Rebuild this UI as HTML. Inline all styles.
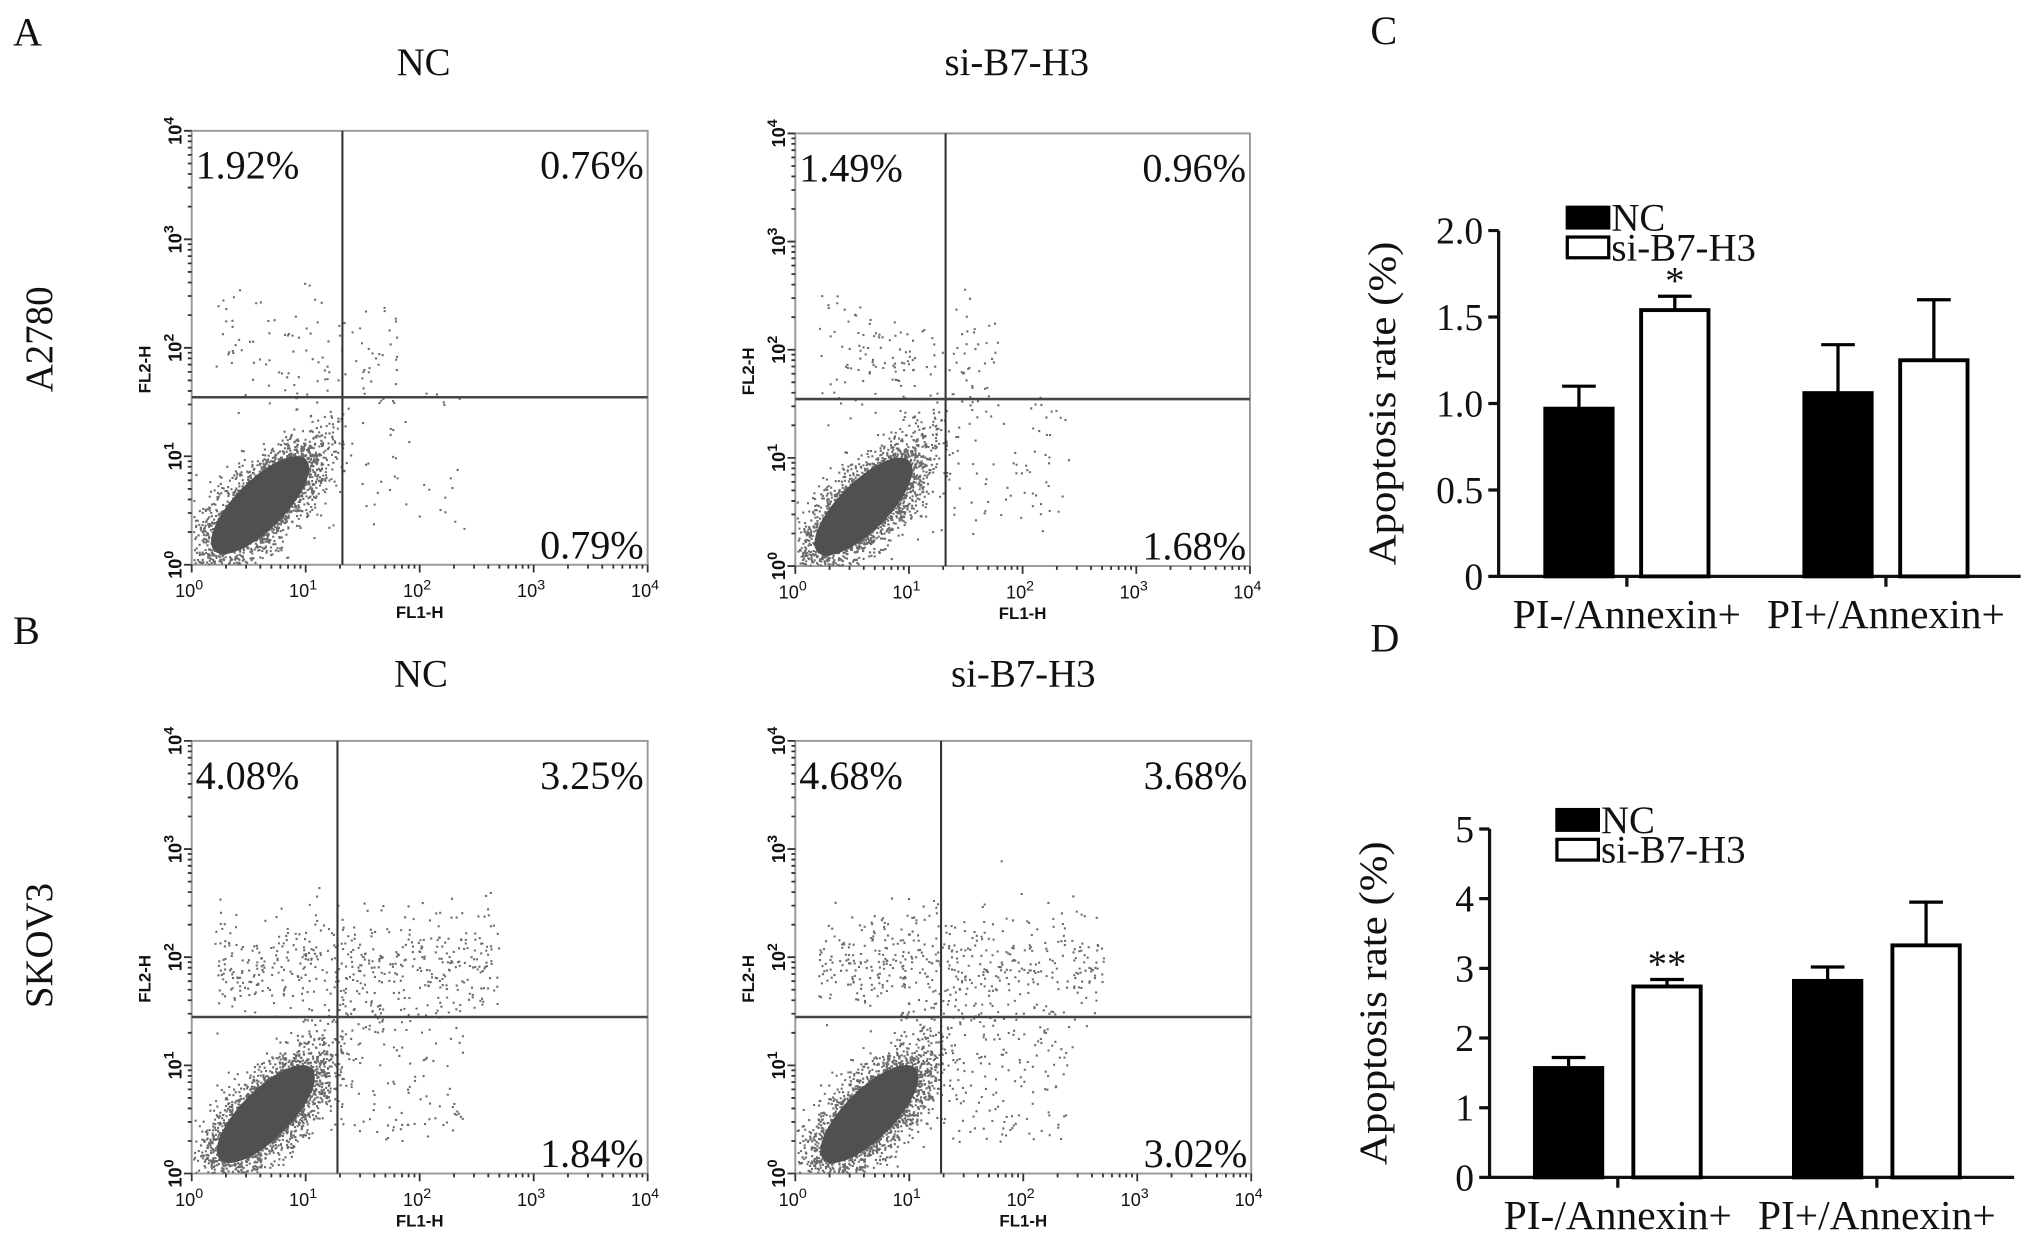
<!DOCTYPE html>
<html><head><meta charset="utf-8"><style>
html,body{margin:0;padding:0;background:#fff;}
svg{display:block;}
text{font-family:"Liberation Serif",serif;fill:#111;}
.sans{font-family:"Liberation Sans",sans-serif;}
</style></head><body>
<svg id="fig" width="2031" height="1237" viewBox="0 0 1568 955" xmlns="http://www.w3.org/2000/svg">
<g id="flow"></g>
<g id="bars"></g>
</svg>
<script>
// ---- flow panel data ----
const panelNames = ["a2780-nc","a2780-si","skov3-nc","skov3-si"];
const quadUL = ["1.92%","1.49%","4.08%","4.68%"];
const quadUR = ["0.76%","0.96%","3.25%","3.68%"];
const quadLR = ["0.79%","1.68%","1.84%","3.02%"];
const gateX = [21, 21, 19, 19];     // FL1-H gate value
const gateY = [35, 35, 28, 28];     // FL2-H gate value
const upperDensity = [110, 140, 500, 480];
const midDensity = [50, 110, 160, 200];
// ---- bar chart data ----
const categories = ["PI-/Annexin+","PI+/Annexin+"];
const seriesNames = ["NC","si-B7-H3"];
const cNC = [0.97, 1.06], cNCerr = [0.13, 0.28];
const cSI = [1.54, 1.25], cSIerr = [0.08, 0.35];
const cTicks = ["0","0.5","1.0","1.5","2.0"], cTickVals=[0,0.5,1,1.5,2];
const dNC = [1.57, 2.82], dNCerr = [0.15, 0.20];
const dSI = [2.74, 3.33], dSIerr = [0.10, 0.62];
const dTicks = ["0","1","2","3","4","5"], dTickVals=[0,1,2,3,4,5];
const cStars = ["*",""], dStars = ["**",""];

const NS="http://www.w3.org/2000/svg";
function mk(tag,attrs,parent,txt){const e=document.createElementNS(NS,tag);for(const k in attrs)e.setAttribute(k,attrs[k]);if(txt!==undefined)e.textContent=txt;parent.appendChild(e);return e;}
const flow=document.getElementById('flow');
let t;
t=mk('text',{x:10,y:35,'font-size':31},flow,'A');
t=mk('text',{x:10,y:497,'font-size':31},flow,'B');
const titles=[[327,58,'NC'],[785,58,'si-B7-H3'],[325,530,'NC'],[790,530,'si-B7-H3']];
titles.forEach((d,i)=>{t=mk('text',{x:d[0],y:d[1],'font-size':30,'text-anchor':'middle'},flow,d[2]);});
t=mk('text',{x:0,y:0,'font-size':30,'text-anchor':'middle',transform:'translate(40,262) rotate(-90)'},flow,'A2780');
t=mk('text',{x:0,y:0,'font-size':30,'text-anchor':'middle',transform:'translate(40,730) rotate(-90)'},flow,'SKOV3');

const boxes=[[148,101,500,436],[614,103,965,437],[148,572,500,906],[614,572,966,906]];
let seed=12345;function rnd(){seed=(seed*1103515245+12345)%2147483648;return seed/2147483648;}
function gauss(){return Math.sqrt(-2*Math.log(rnd()+1e-9))*Math.cos(2*Math.PI*rnd());}
boxes.forEach((b,i)=>{
  const [x0,y0,x1,y1]=b;const W=x1-x0,H=y1-y0;
  const g=mk('g',{},flow);
  
  
  const sx=v=>x0+Math.log10(v)/4*W, sy=v=>y1-Math.log10(v)/4*H;
  const r=mk('rect',{x:x0,y:y0,width:W,height:H,fill:'#fff',stroke:'#999','stroke-width':1.5},g);
  
  let dots='';
  const addPx=(px,py)=>{if(px<x0+1||px>x1-1||py<y0+1||py>y1-1)return;dots+=`M${px.toFixed(1)} ${py.toFixed(1)}h1.6v1.6h-1.6z`;};
  const addDot=(lx,ly)=>addPx(x0+lx/4*W,y1-ly/4*H);
  const cx=i<2?0.6:0.65, cy=i<2?0.55:0.55;
  const ccx=x0+cx/4*W, ccy=y1-cy/4*H;
  for(let k=0;k<3000;k++){const a=gauss()*32,b2=gauss()*13;addPx(ccx+a*0.707+b2*0.707,ccy-a*0.707+b2*0.707);}
  for(let k=0;k<midDensity[i];k++){addDot(0.9+rnd()*1.5,0.3+rnd()*1.3);}
  for(let k=0;k<upperDensity[i];k++){addDot(0.2+rnd()*(i<2?1.6:2.5),1.95+gauss()*0.25);}
  const p=mk('path',{d:dots,fill:'#6a6a6a'},g);
  const e=mk('ellipse',{cx:ccx,cy:ccy,rx:50,ry:19,fill:'#505050',transform:`rotate(-45 ${ccx} ${ccy})`},g);
  
  const gx=sx(gateX[i]),gy=sy(gateY[i]);
  const lv=mk('line',{x1:gx,y1:y0,x2:gx,y2:y1,stroke:'#333','stroke-width':1.6},g);
  const lh=mk('line',{x1:x0,y1:gy,x2:x1,y2:gy,stroke:'#444','stroke-width':2},g);
  t=mk('text',{x:x0+3,y:y0+37,'font-size':31},g,quadUL[i]);
  t=mk('text',{x:x1-3,y:y0+37,'font-size':31,'text-anchor':'end'},g,quadUR[i]);
  t=mk('text',{x:x1-3,y:y1-5,'font-size':31,'text-anchor':'end'},g,quadLR[i]);
  let tk='';
  for(let d=0;d<4;d++)for(let m=1;m<=9;m++){const lx=d+Math.log10(m);const px=x0+lx/4*W,py=y1-lx/4*H;const L=m==1?6:3;tk+=`M${px} ${y1}v${L}M${x0} ${py}h-${L}`;}
  tk+=`M${x1} ${y1}v6M${x0} ${y0}h-6`;
  const tp=mk('path',{d:tk,stroke:'#333','stroke-width':1.4},g);
  for(let d=0;d<=4;d++){
    const px=x0+d/4*W;
    const tx=mk('text',{x:px-2,y:y1+25,'font-size':14,'text-anchor':'middle',class:'sans'},g);
    
    mk('tspan',{},tx,'10');mk('tspan',{dy:-6,'font-size':11},tx,String(d));
    const py=y1-d/4*H;
    const ty=mk('text',{x:0,y:0,'font-size':14,'text-anchor':'middle',class:'sans','font-weight':'bold',transform:`translate(${x0-8},${py}) rotate(-90)`},g);
    
    mk('tspan',{},ty,'10');mk('tspan',{dy:-6,'font-size':11},ty,String(d));
  }
  t=mk('text',{x:x0+W*0.5,y:y1+41,'font-size':13,'text-anchor':'middle',class:'sans','font-weight':'bold'},g,'FL1-H');
  t=mk('text',{x:0,y:0,'font-size':13,'text-anchor':'middle',class:'sans','font-weight':'bold',transform:`translate(${x0-32},${y0+H*0.55}) rotate(-90)`},g,'FL2-H');
});

const bars=document.getElementById('bars');
function barChart(o){
  const g=mk('g',{},bars);
  
  
  const ymax=o.tickVals[o.tickVals.length-1];
  const ys=v=>o.y0-(v/ymax)*(o.y0-o.ytop);
  t=mk('text',{x:o.lx,y:o.ly,'font-size':31},g,o.letter);
  let ax=`M${o.ax} ${ys(ymax)}V${o.y0}H${o.xend}`;
  o.tickVals.forEach(v=>{ax+=`M${o.ax} ${ys(v)}h-8`;});
  o.catX.forEach(c=>{ax+=`M${c} ${o.y0}v8`;});
  const ap=mk('path',{d:ax,stroke:'#111','stroke-width':2.5,fill:'none'},g);
  o.tickVals.forEach((v,k)=>{t=mk('text',{x:o.ax-12,y:ys(v)+10,'font-size':29,'text-anchor':'end'},g,o.ticks[k]);});
  t=mk('text',{x:0,y:0,'font-size':30,'text-anchor':'middle',transform:`translate(${o.ax-80},${(ys(ymax)+o.y0)/2}) rotate(-90)`,textLength:250,lengthAdjust:'spacingAndGlyphs'},g,'Apoptosis rate (%)');
  categories.forEach((c,k)=>{
    t=mk('text',{x:o.catX[k],y:o.y0+40,'font-size':32,'text-anchor':'middle'},g,c);
    [[o.nc,o.ncErr,'#000'],[o.si,o.siErr,'#fff']].forEach((s,j)=>{
      const bw=52, bx=o.catX[k]+(j==0?-o.gap-bw:o.gap);
      const top=ys(s[0][k]), et=ys(s[0][k]+s[1][k]);
      const ep=mk('path',{d:`M${bx+bw/2} ${top}V${et}M${bx+bw/2-13} ${et}h26`,stroke:'#000','stroke-width':2.5},g);
      
      const r=mk('rect',{x:bx,y:top,width:bw,height:o.y0-top,fill:s[2],stroke:'#000','stroke-width':3},g);
      
      if(j==1&&o.stars[k]){t=mk('text',{x:bx+bw/2,y:et-2,'font-size':30,'text-anchor':'middle'},g,o.stars[k]);}
    });
  });
  seriesNames.forEach((n,k)=>{
    const ly=o.legY+k*23;
    const r=mk('rect',{x:o.legX,y:ly-14,width:32,height:16,fill:k==0?'#000':'#fff',stroke:'#000','stroke-width':2.5},g);
    
    t=mk('text',{x:o.legX+34,y:ly+4,'font-size':30},g,n);
  });
}
barChart({name:'chart-c',letter:'C',lx:1058,ly:34,ax:1157,y0:445,ytop:178,xend:1560,catX:[1256,1456],gap:11,
  ticks:cTicks,tickVals:cTickVals,nc:cNC,ncErr:cNCerr,si:cSI,siErr:cSIerr,stars:cStars,legX:1210,legY:174});
barChart({name:'chart-d',letter:'D',lx:1058,ly:503,ax:1150,y0:909,ytop:640,xend:1555,catX:[1249,1449],gap:12,
  ticks:dTicks,tickVals:dTickVals,nc:dNC,ncErr:dNCerr,si:dSI,siErr:dSIerr,stars:dStars,legX:1202,legY:639});
</script>
</body></html>
